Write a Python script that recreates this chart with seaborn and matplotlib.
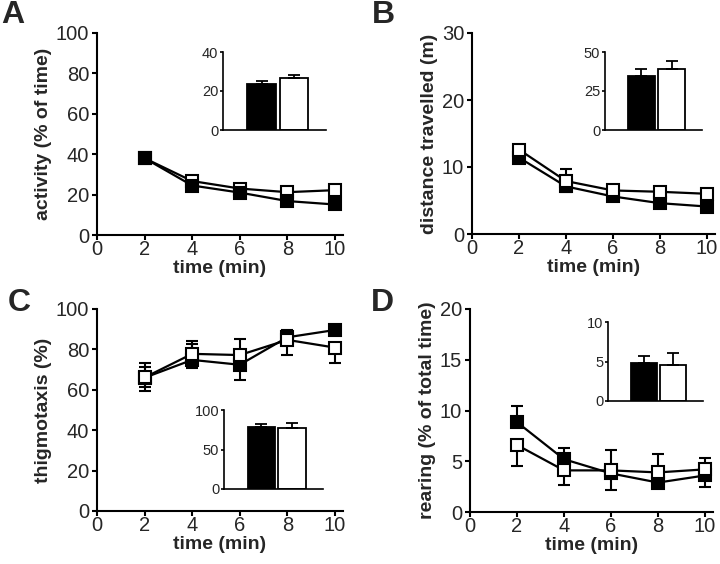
import matplotlib
matplotlib.use('Agg')
import matplotlib.pyplot as plt
import seaborn as sns

# time points (min)
times = [2, 4, 6, 8, 10]
bar_groups = ['black', 'white']

# A: activity (% of time)
act_black = [38, 24.5, 21, 16.8, 15.1]
act_black_lo = [1.5, 1.5, 1.5, 1.5, 1.5]
act_black_hi = [0, 0, 0, 0, 0]
act_white = [38, 26.7, 23, 21.2, 22.2]
act_white_lo = [0, 0, 0, 0, 0]
act_white_hi = [1.5, 1.5, 1.5, 1.5, 1.5]
act_bars = [23.6, 26.5]
act_bars_sem = [1.3, 1.6]

# B: distance travelled (m)
dist_black = [11.4, 7.1, 5.6, 4.6, 4.1]
dist_black_lo = [0.5, 0.8, 0.5, 0.5, 0.5]
dist_black_hi = [0, 0, 0, 0, 0]
dist_white = [12.6, 7.9, 6.5, 6.3, 6.0]
dist_white_lo = [0, 0, 0, 0, 0]
dist_white_hi = [0.6, 1.75, 0.6, 0.5, 0.6]
dist_bars = [34.6, 39.0]
dist_bars_sem = [4.4, 5.2]

# C: thigmotaxis (%)
thig_black = [66, 74.8, 72.4, 86, 89.6]
thig_black_lo = [4.8, 0, 7.5, 0, 0]
thig_black_hi = [5.3, 7.9, 0, 3, 2.5]
thig_white = [66.1, 77.8, 77.2, 84.7, 80.9]
thig_white_lo = [6.6, 7.2, 0, 7.5, 7.5]
thig_white_hi = [7.0, 6.5, 7.8, 4.9, 0]
thig_bars = [78.5, 77.6]
thig_bars_sem = [4.2, 5.4]

# D: rearing (% of total time)
rear_black = [8.85, 5.2, 3.8, 2.9, 3.6]
rear_black_lo = [0, 0, 1.6, 0.4, 1.1]
rear_black_hi = [1.55, 1.1, 0, 0, 0]
rear_white = [6.6, 4.1, 4.1, 3.9, 4.2]
rear_white_lo = [2.1, 1.4, 0, 0, 0]
rear_white_hi = [0, 0, 2.0, 1.8, 1.1]
rear_bars = [4.8, 4.5]
rear_bars_sem = [0.9, 1.6]

sns.set_style('ticks')
plt.rcParams['font.family'] = ['Liberation Sans', 'DejaVu Sans']

W, H = 720, 564
fig = plt.figure(figsize=(7.2, 5.64), dpi=100)


def rect(left, top, right, bottom):
    # pixel box -> figure fraction
    return [left / W, 1 - bottom / H, (right - left) / W, (bottom - top) / H]


def style_axes(ax, lw, size, length, xpad, ypad):
    for s in ['left', 'bottom']:
        ax.spines[s].set_linewidth(lw)
        ax.spines[s].set_color('black')
    sns.despine(ax=ax)
    ax.tick_params(axis='both', width=lw, length=length, labelsize=size, color='black')
    ax.tick_params(axis='x', pad=xpad)
    ax.tick_params(axis='y', pad=ypad)


def main_panel(ax, black, b_lo, b_hi, white, w_lo, w_hi, ymax, yticks, ylabel, white_on_top=True):
    ax.errorbar(times, black, yerr=[b_lo, b_hi], fmt='none', ecolor='black',
                elinewidth=1.5, capsize=4.5, capthick=1.5, zorder=2)
    ax.errorbar(times, white, yerr=[w_lo, w_hi], fmt='none', ecolor='black',
                elinewidth=1.5, capsize=4.5, capthick=1.5, zorder=2)
    zb, zw = (3, 4) if white_on_top else (4, 3)
    sns.lineplot(x=times, y=black, ax=ax, color='black', linewidth=1.6, marker='s',
                 markersize=9, markerfacecolor='black', markeredgecolor='black',
                 markeredgewidth=1.5, zorder=zb)
    sns.lineplot(x=times, y=white, ax=ax, color='black', linewidth=1.6, marker='s',
                 markersize=9, markerfacecolor='white', markeredgecolor='black',
                 markeredgewidth=1.5, zorder=zw)
    ax.set_xlim(0, 10.34)
    ax.set_ylim(0, ymax)
    ax.set_xticks([0, 2, 4, 6, 8, 10])
    ax.set_yticks(yticks)
    ax.set_xlabel('time (min)', fontsize=14, fontweight='bold', labelpad=1)
    ax.set_ylabel(ylabel, fontsize=14, fontweight='bold', labelpad=3)
    style_axes(ax, 1.5, 14.5, 3.6, 0, 2)
    for sp in ['left', 'bottom']:
        ax.spines[sp].set_zorder(5)
        ax.spines[sp].set_clip_on(False)


def inset(ax, means, sems, ymax, yticks):
    sns.barplot(x=bar_groups, y=means, hue=bar_groups, palette=['black', 'white'],
                edgecolor='black', linewidth=1.3, width=0.88, legend=False, ax=ax)
    ax.errorbar([0, 1], means, yerr=[[0, 0], sems], fmt='none', ecolor='black',
                elinewidth=1.3, capsize=4.5, capthick=1.3, zorder=1)
    ax.set_xlim(-1.2, 2.0)
    ax.set_ylim(0, ymax)
    ax.set_yticks(yticks)
    ax.set_xticks([])
    ax.set_xlabel('')
    ax.set_ylabel('')
    ax.patch.set_alpha(0)
    style_axes(ax, 1.2, 10.5, 2.5, 0, 1)


axA = fig.add_axes(rect(97, 33, 343, 235))
main_panel(axA, act_black, act_black_lo, act_black_hi, act_white, act_white_lo, act_white_hi,
           100, [0, 20, 40, 60, 80, 100], 'activity (% of time)', white_on_top=False)
axB = fig.add_axes(rect(472, 33, 715, 234))
main_panel(axB, dist_black, dist_black_lo, dist_black_hi, dist_white, dist_white_lo, dist_white_hi,
           30, [0, 10, 20, 30], 'distance travelled (m)')
axC = fig.add_axes(rect(97, 309, 343, 511))
main_panel(axC, thig_black, thig_black_lo, thig_black_hi, thig_white, thig_white_lo, thig_white_hi,
           100, [0, 20, 40, 60, 80, 100], 'thigmotaxis (%)')
axD = fig.add_axes(rect(470, 309, 713, 512))
main_panel(axD, rear_black, rear_black_lo, rear_black_hi, rear_white, rear_white_lo, rear_white_hi,
           20, [0, 5, 10, 15, 20], 'rearing (% of total time)')

inset(fig.add_axes(rect(223, 52, 326, 130)), act_bars, act_bars_sem, 40, [0, 20, 40])
inset(fig.add_axes(rect(605, 52, 702, 130)), dist_bars, dist_bars_sem, 50, [0, 25, 50])
inset(fig.add_axes(rect(224, 410, 323, 489)), thig_bars, thig_bars_sem, 100, [0, 50, 100])
inset(fig.add_axes(rect(608, 322, 703, 401)), rear_bars, rear_bars_sem, 10, [0, 5, 10])

# panel letters
for letter, (px, py) in zip('ABCD', [(1, 0), (372, 0), (8, 288), (371, 288)]):
    fig.text(px / W, 1 - py / H, letter, fontsize=23, fontweight='bold', va='top', ha='left')

fig.savefig('out.png', dpi=100)
